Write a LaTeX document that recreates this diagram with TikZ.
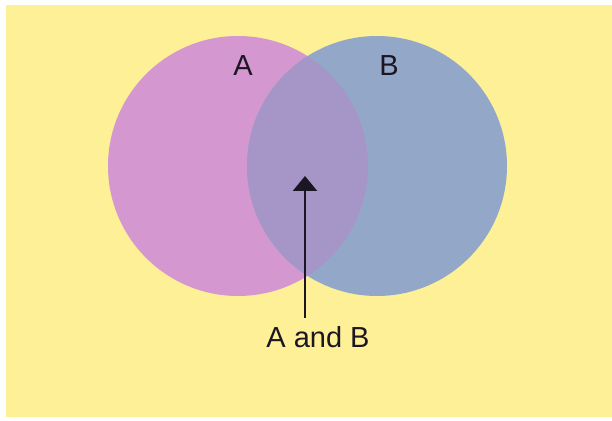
\documentclass[tikz,border=0pt]{standalone}
\usepackage{fontspec}
\setmainfont{Liberation Sans}
\usetikzlibrary{arrows.meta,positioning}
\definecolor{Paper}{HTML}{FEF097}
\definecolor{SetA}{HTML}{D597CF}
\definecolor{SetB}{HTML}{93A8C8}
\definecolor{SetAB}{HTML}{A596C7}
\definecolor{Ink}{HTML}{1C1624}
\tikzset{
 setlabel/.style={text=Ink, font=\fontsize{29}{30}\selectfont, inner sep=0pt, anchor=base},
 pointer/.style={-{Triangle[width=24pt,length=15pt]}, line width=2.4pt, draw=Ink}
}
\begin{document}
\begin{tikzpicture}[x=1pt,y=1pt]
\useasboundingbox (0,0) rectangle (612,420);
\fill[white] (0,0) rectangle (612,420);
\fill[Paper] (6,3) rectangle (612,415);
\coordinate (cA) at (238,254);
\coordinate (cB) at (377,254);
\fill[SetA] (cA) circle (130);
\fill[SetB] (cB) circle (130);
\begin{scope}
\clip (cA) circle (130);
\fill[SetAB] (cB) circle (130);
\end{scope}
\node[setlabel] (labA) at (243,344) {A};
\node[setlabel] (labB) at (389,344) {B};
\node[setlabel] (ab) at (318,73) {A and B};
\coordinate (tip) at (305,244);
\draw[pointer] (tip |- ab.north) ++(0,8) -- (tip);
\end{tikzpicture}
\end{document}
